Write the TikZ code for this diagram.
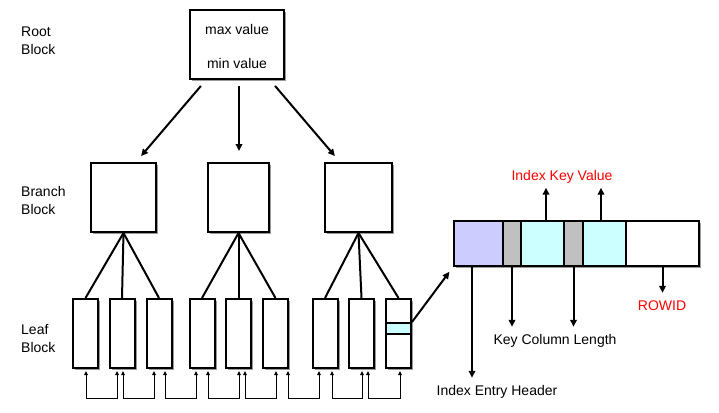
\documentclass[tikz,border=0pt]{standalone}
\usepackage{fontspec}
\setmainfont{Liberation Sans}
\usetikzlibrary{arrows.meta,shadows}
\definecolor{lav}{HTML}{CCCCFF}
\definecolor{cy}{HTML}{CCFFFF}
\definecolor{gr}{HTML}{C0C0C0}
\definecolor{rd}{HTML}{FF0000}
\begin{document}
\begin{tikzpicture}[x=1pt,y=-1pt,
  shd/.style={drop shadow={shadow xshift=2pt,shadow yshift=-2pt,fill=black!40,opacity=1}},
  blk/.style={draw, line width=2pt, inner sep=0pt, minimum height=69pt, fill=white, shd},
  leaf/.style={blk, minimum width=25pt},
  seg/.style={draw, line width=2pt, inner sep=0pt, minimum height=45pt, shd},
  txt/.style={inner sep=0pt, font=\fontsize{14}{18}\selectfont},
  lbl/.style={txt, anchor=west, align=left},
  ln/.style={line width=2pt},
  arr/.style={line width=2pt, -{Triangle[length=7pt,width=6.5pt]}},
  link/.style={line width=1pt, {Triangle[length=4pt,width=3.5pt]}-{Triangle[length=4pt,width=3.5pt]}, shorten <=2pt, shorten >=2pt}
]
\useasboundingbox (0,0) rectangle (719,412);

% left labels
\node[lbl] (lroot) at (21,41) {Root\\Block};
\node[lbl] (lbranch) at (21,200.5) {Branch\\Block};
\node[lbl] (lleaf) at (21,338.5) {Leaf\\Block};

% root
\node[blk, minimum width=94pt] (root) at (237,44.5) {};
\node[txt] (maxv) at (237,29) {max value};
\node[txt] (minv) at (237,63) {min value};

% branches
\node[blk, minimum width=65pt] (b1) at (123.5,197.5) {};
\node[blk, minimum width=61pt] (b2) at (238.5,197.5) {};
\node[blk, minimum width=67pt] (b3) at (358.5,197.5) {};

\draw[arr, shorten <=7.8pt, shorten >=7.8pt] ([xshift=17pt]root.south west) -- ([xshift=46pt]b1.north west);
\draw[arr, shorten <=6pt, shorten >=11pt] ([xshift=2pt]root.south) -- ([xshift=0.5pt]b2.north);
\draw[arr, shorten <=7.8pt, shorten >=7.8pt] ([xshift=81pt]root.south west) -- ([xshift=16pt]b3.north west);

% leaves
\foreach \n/\x in {1/85.5,2/122,3/159,4/202,5/238.5,6/275.5,7/325,8/361.5,9/398.5}
  \node[leaf] (L\n) at (\x,333.5) {};
\node[draw, line width=2pt, fill=cy, minimum width=25pt, minimum height=11pt, inner sep=0pt] (strip) at (398.5,328.5) {};

\foreach \b/\l in {b1/L1,b1/L2,b1/L3,b2/L4,b2/L5,b2/L6,b3/L7,b3/L8,b3/L9}
  \draw[ln] (\b.south) -- (\l.north);

% leaf links
\foreach \i/\a/\j/\b in {1/0.5/2/-5, 2/1/3/-5, 3/6/4/-6, 4/6/5/0.5, 5/6.5/6/0.5, 6/12.5/7/-6, 7/7/8/0.5, 8/6.5/9/1.5}
  \draw[link] ([xshift=\a pt]L\i.south) -- ([xshift=\a pt, yshift=-29pt]L\i.south) -| ([xshift=\b pt]L\j.south);

% index entry
\node[seg, minimum width=49pt, fill=lav] (s1) at (478.5,243.5) {};
\node[seg, minimum width=18pt, fill=gr] (s2) at (512,243.5) {};
\node[seg, minimum width=43pt, fill=cy] (s3) at (542.5,243.5) {};
\node[seg, minimum width=19pt, fill=gr] (s4) at (573.5,243.5) {};
\node[seg, minimum width=43pt, fill=cy] (s5) at (604.5,243.5) {};
\node[seg, minimum width=73pt, fill=white] (s6) at (662.5,243.5) {};

\draw[arr, shorten >=6pt] (strip.north east) -- (s1.south west);

% entry labels
\node[txt, text=rd] (ikv) at (562,177) {Index Key Value};
\node[txt] (ieh) at (497,392) {Index Entry Header};
\node[txt] (kcl) at (555,341) {Key Column Length};
\node[txt, text=rd] (rowid) at (662,306) {ROWID};

\draw[arr, shorten >=4pt] ([xshift=3.5pt]s3.north) -- ([xshift=3.5pt]s3.north |- ikv.south);
\draw[arr, shorten >=4pt] ([xshift=-3.5pt]s5.north) -- ([xshift=-3.5pt]s5.north |- ikv.south);
\draw[arr, shorten >=7.5pt] ([xshift=-6.5pt]s1.south) -- ([xshift=-6.5pt]s1.south |- ieh.north);
\draw[arr, shorten >=7.5pt] (s2.south) -- (s2.south |- kcl.north);
\draw[arr, shorten >=7.5pt] (s4.south) -- (s4.south |- kcl.north);
\draw[arr, shorten >=8pt] (s6.south) -- (s6.south |- rowid.north);
\end{tikzpicture}
\end{document}
